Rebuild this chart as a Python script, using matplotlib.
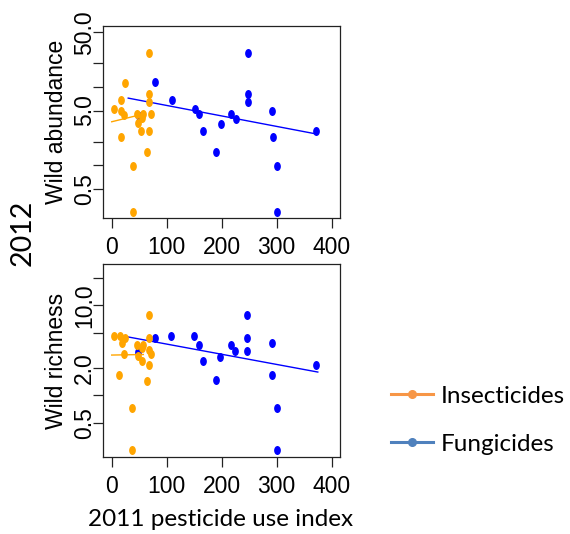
import numpy as np
import matplotlib
matplotlib.use("Agg")
import matplotlib.pyplot as plt
from matplotlib.lines import Line2D
from matplotlib.path import Path

# 2011 pesticide use index vs 2012 wild bee abundance / richness
ins_x_ab = [4.2, 17.5, 24.8, 17.5, 23, 16.3, 45.4, 47.2, 54.5, 57.5, 53.8, 68.4, 68.4, 68.4, 72, 68.4, 64.7, 39.3, 39.3]
ins_ab = [5.26, 6.84, 11.4, 5.0, 4.4, 2.29, 4.5, 3.45, 4.0, 4.5, 2.76, 27, 8.17, 6.5, 4.5, 2.76, 1.46, 0.99, 0.25]
fun_x_ab = [50, 79.3, 110, 152, 159, 166.5, 189.6, 199, 217.5, 226.5, 248, 248, 248, 292, 293, 300, 300, 371.5]
fun_ab = [4.3, 11.6, 6.84, 5.26, 4.5, 2.76, 1.46, 3.4, 4.5, 3.89, 27, 8.17, 6.5, 4.96, 2.26, 0.99, 0.25, 2.7]

ins_x_ri = [4.2, 15, 18, 24, 23, 13.8, 45.4, 47.2, 54.5, 56.4, 54.5, 68.4, 68.4, 68.4, 72, 68.4, 63.6, 37.5, 37.5]
ins_ri = [4.6, 4.6, 3.85, 4.38, 2.88, 1.69, 3.63, 2.76, 3.33, 3.63, 2.42, 7.82, 4.38, 3.19, 2.88, 2.18, 1.46, 0.72, 0.25]
fun_x_ri = [48.5, 78, 108.4, 150, 159, 166.5, 190, 197.5, 217.5, 224.8, 246.7, 246.7, 246.7, 290.9, 292, 300, 300, 371]
fun_ri = [3.0, 4.38, 4.57, 4.57, 3.63, 2.42, 1.47, 2.67, 3.63, 3.14, 7.82, 4.38, 3.14, 3.85, 1.69, 0.72, 0.25, 2.18]

# fitted trend lines (end points)
ins_fit_ab = ([0, 51.5], [3.59, 4.4])
fun_fit_ab = ([30, 372.7], [7.2, 2.5])
ins_fit_ri = ([0, 57.5], [2.81, 2.85])
fun_fit_ri = ([27.6, 374.7], [4.49, 1.82])

ab_ticks = [0.5, 1, 2, 5, 10, 20, 50]
ab_labels = ["0.5", "", "", "5.0", "", "", "50.0"]
ri_ticks = [0.5, 1, 2, 5, 10, 20]
ri_labels = ["0.5", "", "2.0", "", "10.0", ""]
x_ticks = [0, 100, 200, 300, 400]

ORANGE = "#FFA500"
BLUE = "#0000FF"
PFONT = "Lato"
plt.rcParams["font.family"] = "Liberation Sans"

circ = Path.unit_circle()
dot = Path(circ.vertices * [0.75, 1.0], circ.codes)

fig = plt.figure(figsize=(5.7, 5.34), dpi=100)
W, H = 570, 534


def panel(top, bot, ylab, ix, iy, fx, fy, ifit, ffit, yt, ytl, ylim):
    ax = fig.add_axes([103.3 / W, 1 - bot / H, 237 / W, (bot - top) / H])
    ax.set_yscale("log")
    ax.scatter(fx, fy, marker=dot, s=42, color=BLUE, linewidths=0, zorder=2)
    ax.plot(*ffit, color=BLUE, lw=1.0, zorder=3)
    ax.scatter(ix, iy, marker=dot, s=42, color=ORANGE, linewidths=0, zorder=4)
    ax.plot(*ifit, color=ORANGE, lw=1.0, zorder=5)
    ax.set_xlim(-15.3, 415.6)
    ax.set_ylim(*ylim)
    ax.set_xticks(x_ticks)
    ax.set_xticklabels([str(t) for t in x_ticks])
    ax.set_yticks(yt)
    ax.set_yticklabels(ytl, rotation=90, va="center")
    ax.yaxis.set_minor_locator(matplotlib.ticker.NullLocator())
    ax.tick_params(length=7.2, width=0.9, color="#222222", labelsize=16.5)
    ax.tick_params(axis="x", pad=6.0)
    ax.tick_params(axis="y", pad=-2.0)
    for s in ax.spines.values():
        s.set_linewidth(0.9)
        s.set_color("#222222")
    ax.set_ylabel(ylab, fontsize=16.5)
    ax.yaxis.set_label_coords(-0.15, 0.5)
    return ax


ax1 = panel(26, 218, "Wild abundance", ins_x_ab, ins_ab, fun_x_ab, fun_ab,
            ins_fit_ab, fun_fit_ab, ab_ticks, ab_labels, (0.211, 60.2))
ax2 = panel(264.3, 456.7, "Wild richness", ins_x_ri, ins_ri, fun_x_ri, fun_ri,
            ins_fit_ri, fun_fit_ri, ri_ticks, ri_labels, (0.209, 28.6))

fig.text(23 / W, 1 - 233 / H, "2012", rotation=90, ha="center", va="center",
         fontsize=20.5, fontfamily=PFONT)
fig.text(221 / W, 1 - 526 / H, "2011 pesticide use index", ha="center", va="baseline",
         fontsize=17.5, fontfamily=PFONT)

handles = [
    Line2D([], [], color="#F79646", lw=2.2, marker="o", markersize=5.5, label="Insecticides"),
    Line2D([], [], color="#4F81BD", lw=2.2, marker="o", markersize=5.5, label="Fungicides"),
]
fig.legend(handles=handles, loc="upper left", bbox_to_anchor=(391 / W, 1 - 385.5 / H),
           frameon=False, borderpad=0, borderaxespad=0, handlelength=1.73,
           handletextpad=0.3, labelspacing=1.11, prop={"family": PFONT, "size": 17.5})

fig.savefig("out.png", dpi=100)
